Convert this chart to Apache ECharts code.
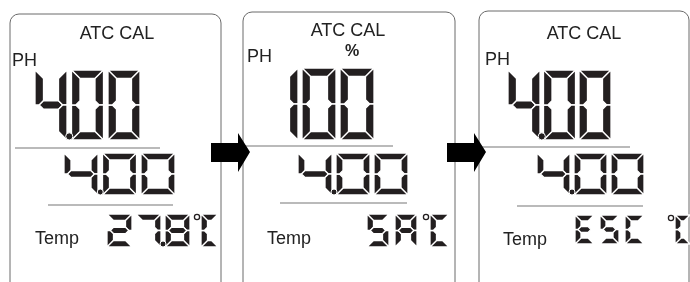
<!DOCTYPE html>
<html>
<head>
<meta charset="utf-8">
<script src="https://cdn.jsdelivr.net/npm/echarts@6/dist/echarts.min.js"></script>
<style>
  html, body { margin: 0; padding: 0; background: #fff; }
  #main { width: 690px; height: 282px; }
</style>
</head>
<body>
<div id="main"></div>
<script>
// readings shown on the three LCD screens
var topLabels = ['ATC CAL', 'ATC CAL', 'ATC CAL'];
var unitLabels = ['', '%', ''];
var mainReadings = ['4.00', '100', '4.00'];
var secondReadings = ['4.00', '4.00', '4.00'];
var tempReadings = ['27.8°C', 'SA°C', 'ESC °C'];

// which segments light up for each glyph
var SEGS = {
    '0': 'abcdef', '1': 'bc', '2': 'abged', '3': 'abgcd', '4': 'fgbc',
    '5': 'afgcd', '6': 'afgedc', '7': 'abc', '8': 'abcdefg', '9': 'abcdfg',
    'S': 'afgcd', 'A': 'abcefg', 'E': 'adefg', 'C': 'adef'
};

var INK = '#231f20';
var els = [];
var dots = [];

// mitered segments; a white outline cuts the thin gaps between them
function drawGlyph(ch, x, y, w, h, t) {
    var r = x + w, b = y + h, m = y + h / 2, k = t / 2;
    var shapes = {
        a: [[x, y], [r, y], [r - t, y + t], [x + t, y + t]],
        d: [[x, b], [r, b], [r - t, b - t], [x + t, b - t]],
        g: [[x + k, m], [x + t, m - k], [r - t, m - k], [r - k, m], [r - t, m + k], [x + t, m + k]],
        f: [[x, y], [x + t, y + t], [x + t, m - k], [x + k, m], [x, m]],
        e: [[x, m], [x + k, m], [x + t, m + k], [x + t, b - t], [x, b]],
        b: [[r, y], [r - t, y + t], [r - t, m - k], [r - k, m], [r, m]],
        c: [[r, m], [r - k, m], [r - t, m + k], [r - t, b - t], [r, b]]
    };
    (SEGS[ch] || '').split('').forEach(function (s) {
        els.push({ type: 'polygon', shape: { points: shapes[s] },
            style: { fill: INK, stroke: '#fff', lineWidth: 1.3, lineJoin: 'miter' } });
    });
}

// lay out one reading along a row
function drawReading(str, row) {
    var x = row.x;
    for (var i = 0; i < str.length; i++) {
        var ch = str[i];
        if (ch === '.') {
            dots.push({ type: 'circle', shape: { cx: x - (row.pitch - row.w) / 2, cy: row.y + row.h - row.dot, r: row.dot },
                style: { fill: INK, stroke: '#fff', lineWidth: 1 } });
        } else if (ch === '°') {
            dots.push({ type: 'circle', shape: { cx: x + 3, cy: row.y + 3, r: 2.6 },
                style: { fill: 'none', stroke: INK, lineWidth: 1.3 } });
            x += 7;
            drawGlyph(str[i + 1], x, row.y, row.cw, row.h, row.t);
            i++;
            x += row.pitch;
        } else if (ch === ' ') {
            x += row.space;
        } else {
            drawGlyph(ch, x, row.y, row.w, row.h, row.t);
            x += row.pitch;
        }
    }
}

var panels = [
    { x: 10, y: 14, w: 211, titleX: 117, titleY: 34, phX: 12, phY: 61, tempX: 35, tempY: 239,
      main: { x: 35, y: 70, w: 32, h: 70, t: 8.5, pitch: 36.5, dot: 3.6 },
      second: { x: 64, y: 153, w: 34, h: 42, t: 7, pitch: 38.5, dot: 3 },
      temp: { x: 107, y: 214, w: 25, h: 33, t: 6.5, pitch: 29, cw: 17, space: 10, dot: 3 },
      line1: [15, 160, 148], line2: [48, 173, 205] },
    { x: 243, y: 12, w: 212, titleX: 348, titleY: 31, phX: 247, phY: 57, tempX: 267, tempY: 239,
      main: { x: 264, y: 68, w: 34, h: 72, t: 8.5, pitch: 38, dot: 3.6 },
      second: { x: 298, y: 153, w: 34, h: 42, t: 7, pitch: 38, dot: 3 },
      temp: { x: 367, y: 214, w: 22, h: 33, t: 6.5, pitch: 28, cw: 19, space: 10, dot: 3 },
      line1: [245, 393, 146], line2: [280, 407, 203] },
    { x: 479, y: 11, w: 210, titleX: 584, titleY: 34, phX: 485, phY: 60, tempX: 503, tempY: 240,
      main: { x: 508, y: 70, w: 32, h: 70, t: 8.5, pitch: 35.5, dot: 3.6 },
      second: { x: 537, y: 153, w: 33, h: 42, t: 7, pitch: 37, dot: 3 },
      temp: { x: 575, y: 215, w: 19, h: 29, t: 6, pitch: 25, cw: 15, space: 18, dot: 3 },
      line1: [480, 630, 147], line2: [517, 643, 206] }
];

panels.forEach(function (p, i) {
    els.push({ type: 'rect', shape: { x: p.x, y: p.y, width: p.w, height: 300, r: 9 },
        style: { fill: '#fff', stroke: '#6a6a6a', lineWidth: 1 } });
    var font = '"Liberation Sans", Arial, sans-serif';
    els.push({ type: 'text', x: p.titleX, y: p.titleY,
        style: { text: topLabels[i], fill: '#222', font: '18px ' + font, align: 'center', verticalAlign: 'middle' } });
    if (unitLabels[i]) {
        els.push({ type: 'text', x: p.titleX + 4, y: p.titleY + 21,
            style: { text: unitLabels[i], fill: '#222', font: 'bold 16px ' + font, align: 'center', verticalAlign: 'middle' } });
    }
    els.push({ type: 'text', x: p.phX, y: p.phY,
        style: { text: 'PH', fill: '#222', font: '18px ' + font, align: 'left', verticalAlign: 'middle' } });
    els.push({ type: 'text', x: p.tempX, y: p.tempY,
        style: { text: 'Temp', fill: '#222', font: '18px ' + font, align: 'left', verticalAlign: 'middle' } });
    [p.line1, p.line2].forEach(function (l) {
        els.push({ type: 'line', shape: { x1: l[0], y1: l[2], x2: l[1], y2: l[2] },
            style: { stroke: '#777', lineWidth: 1.2 } });
    });
    drawReading(mainReadings[i], p.main);
    drawReading(secondReadings[i], p.second);
    drawReading(tempReadings[i], p.temp);
});
els = els.concat(dots);

// arrows between the screens
[0, 236].forEach(function (dx) {
    els.push({ type: 'polygon',
        shape: { points: [[211 + dx, 143], [238 + dx, 143], [238 + dx, 133], [250 + dx, 152],
                          [238 + dx, 172], [238 + dx, 162], [211 + dx, 162]] },
        style: { fill: '#000' } });
});

var chart = echarts.init(document.getElementById('main'));
chart.setOption({
    backgroundColor: '#fff',
    animation: false,
    graphic: { elements: els }
});
</script>
</body>
</html>
